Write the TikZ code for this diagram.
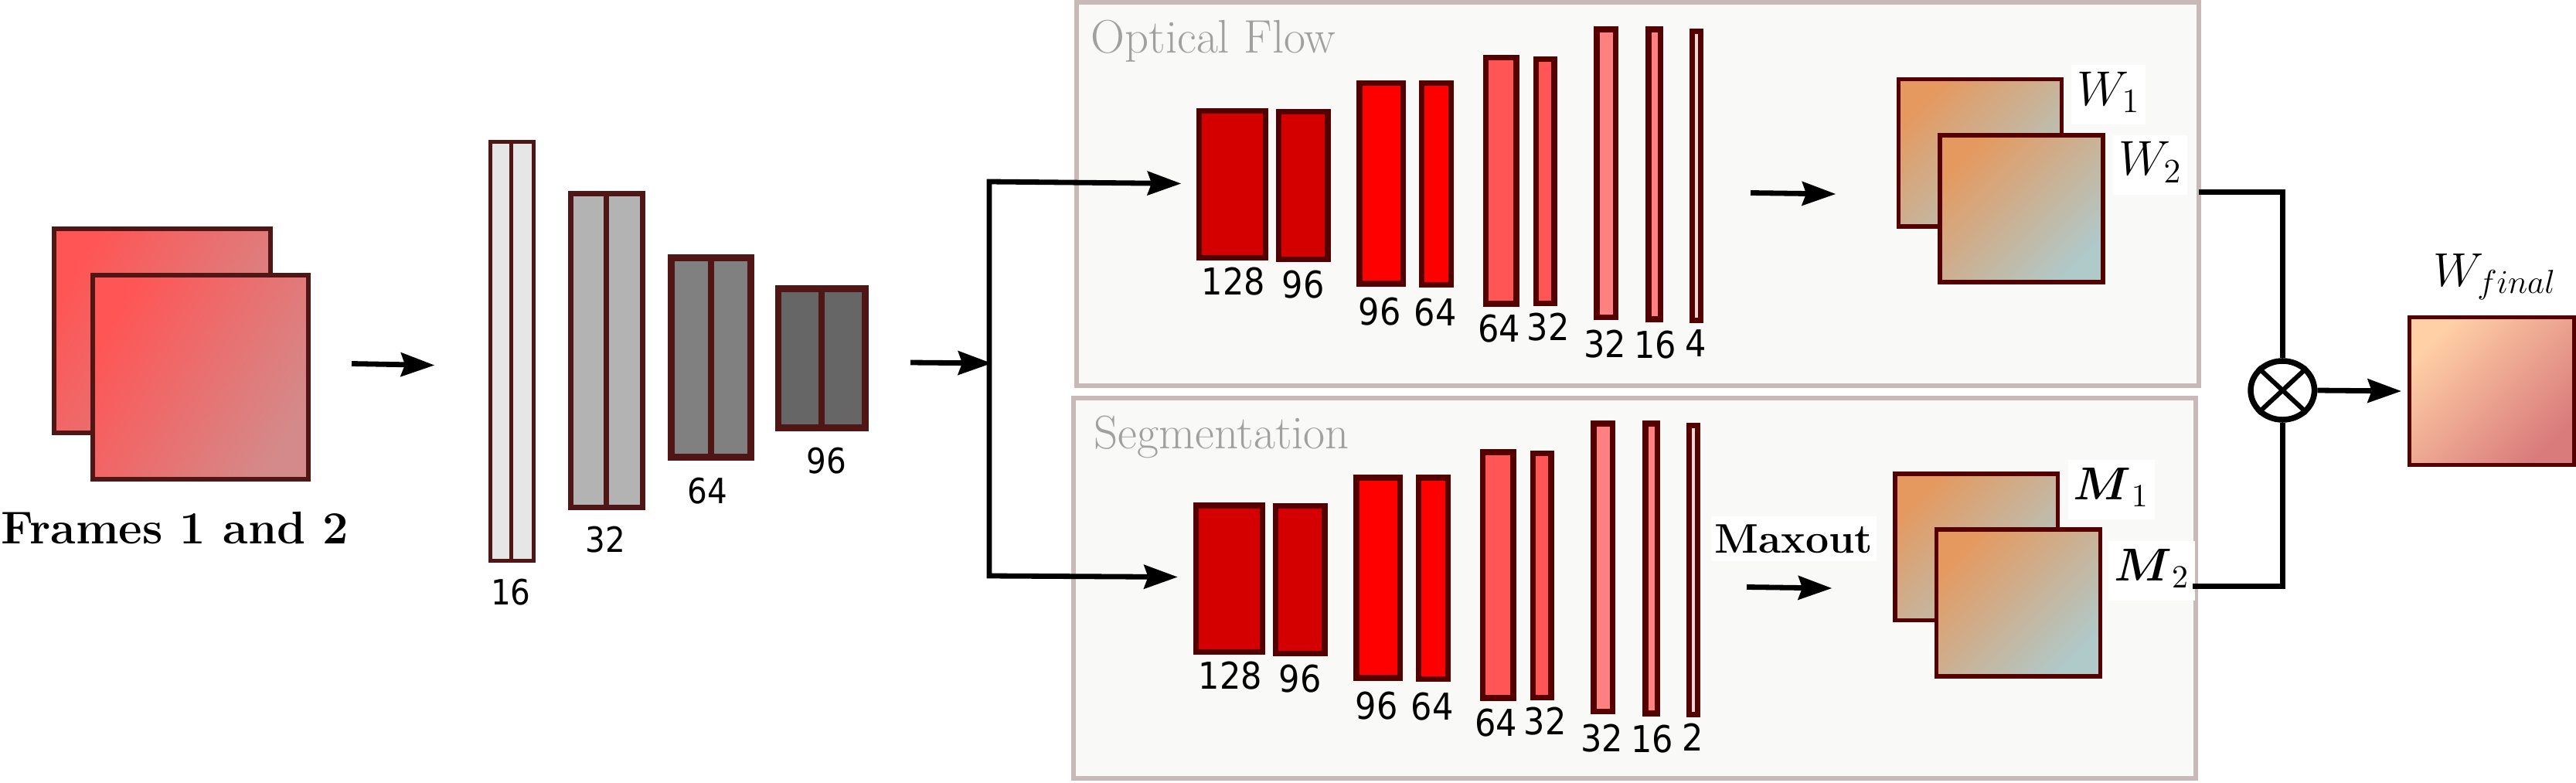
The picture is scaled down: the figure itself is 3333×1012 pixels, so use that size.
\documentclass[tikz,border=0pt]{standalone}
\usepackage{fix-cm}
\usepackage{amsmath}
\usepackage{graphicx}
\usepackage{fontspec}
\newfontfamily\numfont{DejaVu Sans}
\usetikzlibrary{arrows.meta,shapes.geometric}

\definecolor{encb}{HTML}{501616}
\definecolor{redb}{HTML}{550000}
\definecolor{panb}{HTML}{C8B8B8}
\definecolor{panf}{HTML}{F9F9F7}
\definecolor{pant}{HTML}{A0A0A0}
\definecolor{gA}{HTML}{E6E6E6}
\definecolor{gB}{HTML}{B3B3B3}
\definecolor{gC}{HTML}{808080}
\definecolor{gD}{HTML}{666666}
\definecolor{rA}{HTML}{D40000}
\definecolor{rB}{HTML}{FF0000}
\definecolor{rC}{HTML}{FF5555}
\definecolor{rD}{HTML}{FF8080}
\definecolor{rE}{HTML}{F2D5D5}
\definecolor{frA}{HTML}{FF5555}
\definecolor{frB}{HTML}{D48A8A}
\definecolor{outA}{HTML}{E5995F}
\definecolor{outB}{HTML}{B0C9C9}
\definecolor{finA}{HTML}{FFCFA6}
\definecolor{finB}{HTML}{D97B7B}

\newcommand\mklayer[7]{% name, style, lw(px), x1,y1,x2,y2 (outer extents)
  \pgfmathsetmacro\cxx{(#4+#6)/2}%
  \pgfmathsetmacro\cyy{(#5+#7)/2}%
  \pgfmathsetmacro\www{(#6-#4-#3)*0.01}%
  \pgfmathsetmacro\hhh{(#7-#5-#3)*0.01}%
  \pgfmathsetmacro\lww{#3*0.01}%
  \node[#2, line width=\lww cm, minimum width=\www cm, minimum height=\hhh cm] (#1) at (\cxx,\cyy) {};%
}
\newcommand\numlbl[5]{\node[#1] (#2) at (#3,#4) {\scalebox{0.9}[1]{#5}};}

\newcommand\mklayers[2]{%
  \mklayer{#1L1}{lay,fill=rA}{7.5}{1547.5}{140}{1641.2}{337}
  \mklayer{#1L2}{lay,fill=rA}{7.5}{1650.8}{140.7}{1721.6}{339}
  \mklayer{#1L3}{lay,fill=rB}{7.5}{1755}{104}{1819}{370.5}
  \mklayer{#1L4}{lay,fill=rB}{7.5}{1835.5}{104}{1881.4}{372}
  \mklayer{#1L5}{lay,fill=rC}{7.5}{1918.8}{71}{1965.6}{396.5}
  \mklayer{#1L6}{lay,fill=rC}{7.5}{1983.8}{72.7}{2014.6}{396}
  \mklayer{#1L7}{lay,fill=rD}{7.5}{2062.3}{34.3}{2094.3}{414.3}
  \mklayer{#1L8}{lay,fill=rD}{7.5}{2129.3}{34.3}{2152.3}{416.7}
  \mklayer{#1L9}{lay,fill=rE}{7}{2186}{36.7}{2204.3}{418.3}
  \numlbl{num}{#1n1}{1596}{381.7}{128}
  \numlbl{num}{#1n2}{1686}{385}{96}
  \numlbl{num}{#1n3}{1785}{420}{96}
  \numlbl{num}{#1n4}{1857}{421.7}{64}
  \numlbl{num}{#1n5}{1939.5}{442.7}{64}
  \numlbl{num}{#1n6}{2003}{440.7}{32}
  \numlbl{num}{#1n7}{2076.7}{462.7}{32}
  \numlbl{num}{#1n8}{2141.7}{463.3}{16}
  \numlbl{num}{#1n9}{2194.3}{461.7}{#2}
}

\begin{document}
\begin{tikzpicture}[x=0.01cm,y=-0.01cm,
  box/.style={rectangle, inner sep=0pt, outer sep=0pt},
  enc/.style={box, draw=encb},
  lay/.style={box, draw=redb},
  panel/.style={box, draw=panb, fill=panf},
  frame/.style={box, draw=encb, top color=frA, bottom color=frB, shading angle=60},
  outp/.style={box, draw=redb, top color=outA, bottom color=outB, shading angle=45},
  finbox/.style={box, draw=redb, top color=finA, bottom color=finB, shading angle=45},
  num/.style={inner sep=0pt, anchor=base, font=\numfont\fontsize{13.6}{16}\selectfont},
  numenc/.style={inner sep=0pt, anchor=base, font=\numfont\fontsize{12.8}{15}\selectfont},
  conn/.style={line width=0.068cm, black},
  arr/.style={conn, -{Stealth[length=0.44cm,width=0.32cm,inset=0.06cm,line width=0pt]}},
  lbl/.style={fill=white, anchor=base west, inner xsep=0.07cm, inner ysep=0.07cm, text height=0.45cm, text depth=0.18cm, font=\fontsize{18}{20}\selectfont},
  mlbl/.style={lbl, font=\fontsize{17}{20}\selectfont},
  ptitle/.style={anchor=base west, inner sep=0pt, text=pant, font=\fontsize{17.3}{20}\selectfont}
]
\useasboundingbox (0,0) rectangle (3333,1012);

% panels
\mklayer{ofpanel}{panel}{6.5}{1390}{0}{2848.3}{502}
\mklayer{segpanel}{panel}{6.5}{1386}{511.7}{2844}{1010}
\node[ptitle] (oftitle) at (1411,68) {Optical Flow};
\node[ptitle] (segtitle) at (1415,580) {Segmentation};

% input frames
\mklayer{frback}{frame}{6}{67}{293}{353}{563}
\mklayer{frfront}{frame}{6}{117}{353}{402}{623}
\node[anchor=base west, inner sep=0pt, font=\bfseries\fontsize{16.9}{20}\selectfont] (frlbl) at (1,703) {Frames 1 and 2};

% encoder
\mklayer{e1a}{enc,fill=gA}{5}{631.7}{181}{664.2}{727.7}
\mklayer{e1b}{enc,fill=gA}{5}{659.2}{181}{692.7}{727.7}
\mklayer{e2a}{enc,fill=gB}{7}{735}{247.4}{788.2}{660}
\mklayer{e2b}{enc,fill=gB}{7}{781.2}{247.4}{835}{660}
\mklayer{e3a}{enc,fill=gC}{8.5}{864}{329}{924.25}{595.7}
\mklayer{e3b}{enc,fill=gC}{8.5}{915.75}{329}{975.7}{595.7}
\mklayer{e4a}{enc,fill=gD}{8.5}{1002.7}{369}{1067.25}{557.5}
\mklayer{e4b}{enc,fill=gD}{8.5}{1058.75}{369}{1123.7}{557.5}
\numlbl{numenc}{e1n}{660.8}{782.7}{16}
\numlbl{numenc}{e2n}{783.3}{714}{32}
\numlbl{numenc}{e3n}{915.5}{651.7}{64}
\numlbl{numenc}{e4n}{1069}{612.7}{96}

% branches
\mklayers{of}{4}
\begin{scope}[shift={(-4,510)}]
\mklayers{sg}{2}
\end{scope}

% outputs
\mklayer{w1}{outp}{5.5}{2453.7}{100}{2670}{295.7}
\mklayer{w2}{outp}{5.5}{2507}{172.3}{2723.5}{367.7}
\mklayer{m1}{outp}{5.5}{2449}{610}{2665}{805}
\mklayer{m2}{outp}{5.5}{2502.5}{682}{2720}{877.7}
\node[lbl] (w1lbl) at (2679.3,136) {$W_1$};
\node[lbl] (w2lbl) at (2733.3,226.7) {$W_2$};
\node[mlbl] (m1lbl) at (2675,646.7) {$\boldsymbol{M}_1$};
\node[mlbl] (m2lbl) at (2727.3,751.7) {$\boldsymbol{M}_2$};
\node[fill=white, anchor=base west, inner xsep=0.045cm, inner ysep=0.05cm, text height=0.42cm, text depth=0.06cm, font=\bfseries\fontsize{15.2}{18}\selectfont] (maxout) at (2213,715) {Maxout};

% combination
\node[draw, ellipse, line width=0.075cm, minimum width=0.825cm, minimum height=0.76cm, inner sep=0pt] (cmul) at (2953.3,505) {};
\draw[line width=0.06cm] (cmul.north east) -- (cmul.south west) (cmul.north west) -- (cmul.south east);
\mklayer{wfin}{finbox}{5}{3115}{408.3}{3332.7}{604}
\node[anchor=base, inner sep=0pt, font=\fontsize{17.5}{20}\selectfont] (wfinlbl) at (3228,370) {$W_{final}$};

% connector coordinates
\coordinate (fa) at (455,470.5);
\coordinate (fb) at (562,472.5);
\coordinate (ea) at (1178,469);
\coordinate (eb) at (1283,470);
\coordinate (split) at (1280,470);
\coordinate (ofin) at (1528,237.5);
\coordinate (sgin) at (1523.5,746.5);
\coordinate (ofa) at (2265,249.5);
\coordinate (ofb) at (2375,251);
\coordinate (sga) at (2260,759.5);
\coordinate (sgb) at (2370,761);
\coordinate (w2out) at (2845,248.3);
\coordinate (m2out) at (2837,758.3);
\coordinate (finin) at (3106.7,506);

\draw[arr] (fa) -- (fb);
\draw[arr] (ea) -- (eb);
\draw[arr] (split) -- (1280,235) -- (ofin);
\draw[arr] (split) -- (1280,745) -- (sgin);
\draw[arr] (ofa) -- (ofb);
\draw[arr] (sga) -- (sgb);
\draw[conn] (w2out) -| (cmul.north);
\draw[conn] (m2out) -| (cmul.south);
\draw[arr] (cmul.east) -- (finin);
\end{tikzpicture}
\end{document}
